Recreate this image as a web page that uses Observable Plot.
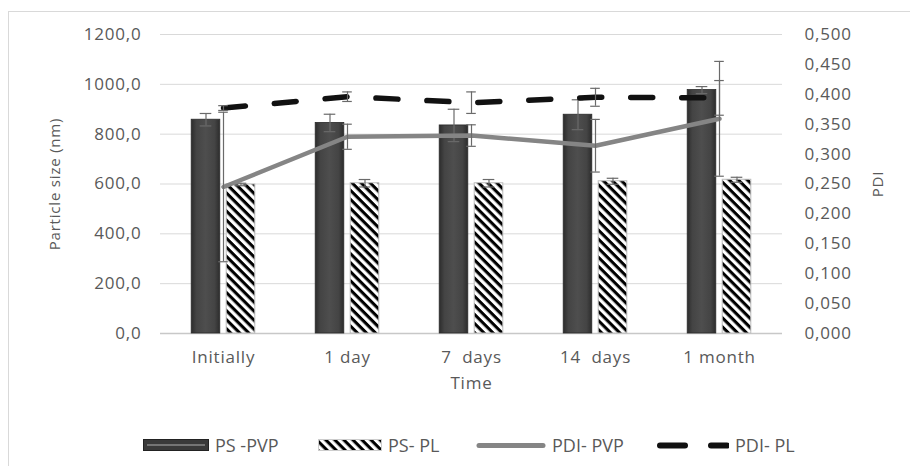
<!DOCTYPE html>
<html><head><meta charset="utf-8">
<script src="https://cdn.jsdelivr.net/npm/d3@7"></script>
<script src="https://cdn.jsdelivr.net/npm/@observablehq/plot@0.6"></script>
<style>
body{margin:0;background:#fff;font-family:"Open Sans",sans-serif;}
#wrap{position:relative;width:910px;height:466px;overflow:hidden;background:#fff}
#frame{position:absolute;left:8px;top:11px;width:1000px;height:600px;border:1.5px solid #d9d9d9;box-sizing:border-box}
#chart{position:absolute;left:0;top:0}
#chart svg text{white-space:pre;letter-spacing:0.8px}
#legend{position:absolute;left:0;top:432px;width:910px;height:26px}
.item{position:absolute;top:0;height:26px;display:flex;align-items:center;font-size:18px;color:#595959;white-space:pre}
.item svg{margin-right:6px}
</style></head>
<body>
<svg width="0" height="0" style="position:absolute">
  <defs>
    <linearGradient id="gPVP" x1="0" x2="1" y1="0" y2="0">
      <stop offset="0" stop-color="#2c2c2c"/>
      <stop offset="0.18" stop-color="#444"/>
      <stop offset="0.5" stop-color="#4e4e4e"/>
      <stop offset="0.82" stop-color="#444"/>
      <stop offset="1" stop-color="#2c2c2c"/>
    </linearGradient>
    <pattern id="stripes" patternUnits="userSpaceOnUse" width="6.4" height="6.4" patternTransform="rotate(45)">
      <rect width="6.4" height="6.4" fill="#fff"/>
      <rect width="6.4" height="3.1" fill="#000"/>
    </pattern>
  </defs>
</svg>
<div id="wrap">
  <div id="frame"></div>
  <div id="chart"></div>
  <div id="legend"></div>
</div>
<script>
// ---- data ----
const categories = ["Initially", "1 day", "7  days", "14  days", "1 month"];
const psPVP     = [858, 845, 835, 878, 977];
const psPVPErr  = [25, 35, 65, 60, 14];
const psPL      = [598, 603, 603, 611, 617];
const psPLErr   = [5, 15, 15, 12, 10];
const pdiPVP    = [0.245, 0.329, 0.331, 0.314, 0.359];
const pdiPVPErr = [0.125, 0.021, 0.018, 0.044, 0.096];
const pdiPL     = [0.377, 0.396, 0.386, 0.395, 0.394];
const pdiPLErr  = [0.004, 0.008, 0.018, 0.015, 0.029];
const leftTicks  = [0, 200, 400, 600, 800, 1000, 1200];
const rightTicks = [0, 0.05, 0.1, 0.15, 0.2, 0.25, 0.3, 0.35, 0.4, 0.45, 0.5];
const seriesNames = ["PS -PVP", "PS- PL", "PDI- PVP", "PDI- PL"];
const yLabel = "Particle size (nm)", y2Label = "PDI", xLabel = "Time";

// ---- layout ----
const W = 910, H = 400, ML = 160, MR = 128, MT = 34, MB = 67;
const K = 1200 / 0.5; // PDI -> left-axis units
const bw = (W - ML - MR) / categories.length;
const barW = 29, off = 17.5, capPS = 12, capPDI = 10;
const side = (bw - barW) / 2;

const rows = categories.map((c, i) => ({
  cat: c,
  pvp: psPVP[i], pvpE: psPVPErr[i],
  pl: psPL[i], plE: psPLErr[i],
  dpvp: pdiPVP[i] * K, dpvpE: pdiPVPErr[i] * K,
  dpl: pdiPL[i] * K, dplE: pdiPLErr[i] * K
}));

const fmt1 = d => d.toFixed(1).replace(".", ",");
const fmt3 = d => (d / K).toFixed(3).replace(".", ",");
const errC = "#6a6a6a";

function errMarks(yv, ye, dx, cap) {
  const s = (bw - cap) / 2;
  return [
    Plot.ruleX(rows, {x: "cat", y1: d => d[yv] - d[ye], y2: d => d[yv] + d[ye], dx, stroke: errC, strokeWidth: 1.2}),
    Plot.tickY(rows, {x: "cat", y: d => d[yv] + d[ye], dx, insetLeft: s, insetRight: s, stroke: errC, strokeWidth: 1.2}),
    Plot.tickY(rows, {x: "cat", y: d => d[yv] - d[ye], dx, insetLeft: s, insetRight: s, stroke: errC, strokeWidth: 1.2})
  ];
}

const chart = Plot.plot({
  width: W, height: H,
  marginLeft: ML, marginRight: MR, marginTop: MT, marginBottom: MB,
  style: {fontFamily: "'Open Sans', sans-serif", fontSize: "17px", color: "#595959", background: "transparent"},
  x: {type: "band", domain: categories, padding: 0},
  y: {domain: [0, 1200]},
  marks: [
    Plot.gridY(leftTicks.filter(t => t > 0), {stroke: "#d9d9d9", strokeOpacity: 1}),
    Plot.ruleY([0], {stroke: "#c8c8c8", strokeWidth: 1.3}),
    Plot.barY(rows, {x: "cat", y: "pvp", fill: "url(#gPVP)", stroke: "#2a2a2a", strokeWidth: 0.8,
      insetLeft: side, insetRight: side, dx: -off}),
    Plot.barY(rows, {x: "cat", y: "pl", fill: "url(#stripes)", stroke: "#bdbdbd", strokeWidth: 1,
      insetLeft: side, insetRight: side, dx: off}),
    ...errMarks("pvp", "pvpE", -off, capPS),
    ...errMarks("pl", "plE", off, capPS),
    Plot.line(rows, {x: "cat", y: "dpvp", stroke: "#858585", strokeWidth: 4.5}),
    Plot.line(rows, {x: "cat", y: "dpl", stroke: "#111", strokeWidth: 5.5, strokeDasharray: "22,29", strokeLinecap: "round"}),
    ...errMarks("dpvp", "dpvpE", 0, capPDI),
    ...errMarks("dpl", "dplE", 0, capPDI),
    Plot.axisY(leftTicks, {anchor: "left", tickSize: 0, tickPadding: 19, tickFormat: fmt1, label: null}),
    Plot.axisY(rightTicks.map(t => t * K), {anchor: "right", tickSize: 0, tickPadding: 22, tickFormat: fmt3, label: null, textAnchor: "start"}),
    Plot.axisX({tickSize: 0, tickPadding: 17, label: null}),
    Plot.text([xLabel], {frameAnchor: "bottom", dy: 50, lineAnchor: "middle", textAnchor: "middle", fontSize: 17, fill: "#595959"}),
    Plot.text([yLabel], {frameAnchor: "left", dx: -105, rotate: -90, textAnchor: "middle", lineAnchor: "middle", fontSize: 15, fill: "#595959"}),
    Plot.text([y2Label], {frameAnchor: "right", dx: 96, rotate: -90, textAnchor: "middle", lineAnchor: "middle", fontSize: 15, fill: "#595959"})
  ]
});
document.getElementById("chart").appendChild(chart);

// ---- legend ----
const swatches = [
  `<svg width="66" height="13"><rect x="0.5" y="0.5" width="65" height="11" fill="#3a3a3a" stroke="#222"/><line x1="4" x2="62" y1="6" y2="6" stroke="#8a8a8a" stroke-width="1.5"/></svg>`,
  `<svg width="64" height="13"><rect x="0.5" y="0.5" width="63" height="11" fill="url(#stripes)" stroke="#ccc"/></svg>`,
  `<svg width="70" height="13"><line x1="3" x2="67" y1="6.5" y2="6.5" stroke="#858585" stroke-width="5" stroke-linecap="round"/></svg>`,
  `<svg width="72" height="13"><line x1="3" x2="28" y1="6.5" y2="6.5" stroke="#111" stroke-width="6" stroke-linecap="round"/><line x1="54" x2="70" y1="6.5" y2="6.5" stroke="#111" stroke-width="6" stroke-linecap="round"/></svg>`
];
const legendLeft = [143, 318, 476, 657];
const lg = document.getElementById("legend");
seriesNames.forEach((n, i) => {
  const el = document.createElement("div");
  el.className = "item";
  el.style.left = legendLeft[i] + "px";
  el.innerHTML = swatches[i] + `<span>${n}</span>`;
  lg.appendChild(el);
});
</script>
</body></html>
